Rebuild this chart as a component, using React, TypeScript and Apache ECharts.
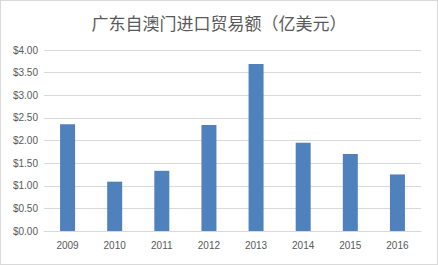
import React, { useEffect, useRef } from "react";
import * as echarts from "echarts";

const title = "广东自澳门进口贸易额（亿美元）";
const years = ["2009", "2010", "2011", "2012", "2013", "2014", "2015", "2016"];
const values = [2.36, 1.09, 1.33, 2.34, 3.69, 1.95, 1.7, 1.25];

export default function App() {
  const ref = useRef<HTMLDivElement>(null);
  useEffect(() => {
    const chart = echarts.init(ref.current!, null, { renderer: "svg" });
    chart.setOption({
      animation: false,
      backgroundColor: "#ffffff",
      title: {
        text: title,
        left: "center",
        top: 8,
        textStyle: {
          fontFamily: "Noto Sans CJK SC",
          fontSize: 17,
          fontWeight: "normal",
          color: "#595959",
        },
      },
      grid: { left: 43, right: 16, top: 49, bottom: 33 },
      xAxis: {
        type: "category",
        data: years,
        axisLine: { lineStyle: { color: "#d9d9d9" } },
        axisTick: { show: false },
        axisLabel: { color: "#595959", fontSize: 10, fontFamily: "Liberation Sans", margin: 9 },
      },
      yAxis: {
        type: "value",
        min: 0,
        max: 4,
        interval: 0.5,
        axisLine: { show: false },
        axisTick: { show: false },
        splitLine: { lineStyle: { color: "#d9d9d9" } },
        axisLabel: {
          color: "#595959",
          fontSize: 10,
          fontFamily: "Liberation Sans",
          margin: 6,
          formatter: (v: number) => "$" + v.toFixed(2),
        },
      },
      series: [
        {
          type: "bar",
          data: values,
          barWidth: 15,
          itemStyle: { color: "#4F81BD" },
        },
      ],
    });
    return () => chart.dispose();
  }, []);
  return (
    <div
      ref={ref}
      style={{
        position: "absolute",
        left: 0,
        top: 0,
        width: 436,
        height: 263,
        border: "1px solid #d9d9d9",
      }}
    />
  );
}
